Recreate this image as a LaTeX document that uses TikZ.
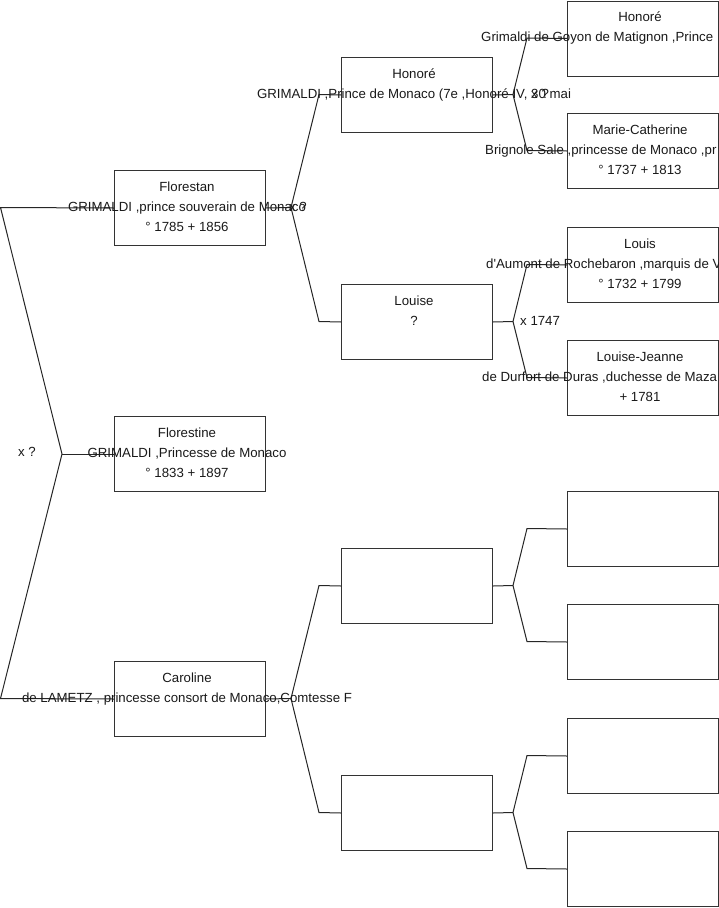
\documentclass[tikz,border=0pt]{standalone}
\usepackage{fontspec}
\setmainfont{Liberation Sans}
\begin{document}
\begin{tikzpicture}[x=1pt,y=-1pt,
  box/.style={draw=black!80,line width=1pt,minimum width=151pt,minimum height=75pt,inner sep=0pt,anchor=north west},
  t/.style={inner sep=0pt,anchor=base,font=\fontsize{13.25}{15}\selectfont,text=black!90},
  tw/.style={t,anchor=base west},
  ln/.style={draw=black!85,line width=1pt}]
\useasboundingbox (0,0) rectangle (719,908);
\clip (0,0) rectangle (719,908);
% boxes
\node[box] (flo) at (114,170) {};
\node[box] (fle) at (114,416) {};
\node[box] (car) at (114,661) {};
\node[box] (hon) at (341,57) {};
\node[box] (lou) at (341,284) {};
\node[box] (pa) at (341,548) {};
\node[box] (pb) at (341,775) {};
\node[box] (g1) at (567,0.5) {};
\node[box] (g2) at (567,113) {};
\node[box] (g3) at (567,227) {};
\node[box] (g4) at (567,340) {};
\node[box] (g5) at (567,491) {};
\node[box] (g6) at (567,604) {};
\node[box] (g7) at (567,718) {};
\node[box] (g8) at (567,831) {};
% connectors, generation 1
\coordinate (r0) at (62,454);
\draw[ln] (flo.west) -- (0.5,207.5) -- (r0) -- (0.5,698.5) -- (car.west);
\draw[ln] (r0) -- (fle.west);
% generation 2
\coordinate (k1) at (291,207.5);
\draw[ln] (flo.east) -- (k1);
\draw[ln] (hon.west) -- (319,94.5) -- (k1) -- (319,321.5) -- (lou.west);
\coordinate (k2) at (291,698.5);
\draw[ln] (car.east) -- (k2);
\draw[ln] (pa.west) -- (319,585.5) -- (k2) -- (319,812.5) -- (pb.west);
% generation 3
\coordinate (m1) at (513,94.5);
\draw[ln] (hon.east) -- (m1);
\draw[ln] (g1.west) -- (527,38) -- (m1) -- (527,150.5) -- (g2.west);
\coordinate (m2) at (513,321.5);
\draw[ln] (lou.east) -- (m2);
\draw[ln] (g3.west) -- (527,264.5) -- (m2) -- (527,377.5) -- (g4.west);
\coordinate (m3) at (513,585.5);
\draw[ln] (pa.east) -- (m3);
\draw[ln] (g5.west) -- (527,528.5) -- (m3) -- (527,641.5) -- (g6.west);
\coordinate (m4) at (513,812.5);
\draw[ln] (pb.east) -- (m4);
\draw[ln] (g7.west) -- (527,755.5) -- (m4) -- (527,868.5) -- (g8.west);
% texts column 1
\node[t] (flo1) at ([xshift=-3pt,yshift=-21pt]flo.north) {Florestan};
\node[t] (flo2) at ([xshift=-3pt,yshift=-41pt]flo.north) {GRIMALDI ,prince souverain de Monaco};
\node[t] (flo3) at ([xshift=-3pt,yshift=-61pt]flo.north) {° 1785 + 1856};
\node[t] (fle1) at ([xshift=-3pt,yshift=-21pt]fle.north) {Florestine};
\node[t] (fle2) at ([xshift=-3pt,yshift=-41pt]fle.north) {GRIMALDI ,Princesse de Monaco};
\node[t] (fle3) at ([xshift=-3pt,yshift=-61pt]fle.north) {° 1833 + 1897};
\node[t] (car1) at ([xshift=-3pt,yshift=-21pt]car.north) {Caroline};
\node[t] (car2) at ([xshift=-3pt,yshift=-41pt]car.north) {de LAMETZ , princesse consort de Monaco,Comtesse F};
% texts column 2
\node[t] (hon1) at ([xshift=-3pt,yshift=-21pt]hon.north) {Honoré};
\node[t] (hon2) at ([xshift=-3pt,yshift=-41pt]hon.north) {GRIMALDI ,Prince de Monaco (7e ,Honoré IV, 30 mai};
\node[t] (lou1) at ([xshift=-3pt,yshift=-21pt]lou.north) {Louise};
\node[t] (lou2) at ([xshift=-3pt,yshift=-41pt]lou.north) {?};
% texts column 3
\node[t] (g1a) at ([xshift=-3pt,yshift=-21pt]g1.north) {Honoré};
\node[tw] (g1b) at (481,41) {Grimaldi de Goyon de Matignon ,Prince};
\node[t] (g2a) at ([xshift=-3pt,yshift=-21pt]g2.north) {Marie-Catherine};
\node[tw] (g2b) at (485,154) {Brignole Sale ,princesse de Monaco ,pr};
\node[t] (g2c) at ([xshift=-3pt,yshift=-61pt]g2.north) {° 1737 + 1813};
\node[t] (g3a) at ([xshift=-3pt,yshift=-21pt]g3.north) {Louis};
\node[tw] (g3b) at (486,268) {d\textquotesingle Aumont de Rochebaron ,marquis de V};
\node[t] (g3c) at ([xshift=-3pt,yshift=-61pt]g3.north) {° 1732 + 1799};
\node[t] (g4a) at ([xshift=-3pt,yshift=-21pt]g4.north) {Louise-Jeanne};
\node[tw] (g4b) at (482,381) {de Durfort de Duras ,duchesse de Maza};
\node[t] (g4c) at ([xshift=-3pt,yshift=-61pt]g4.north) {+ 1781};
% marriage labels
\node[tw] (x0) at (18,456) {x ?};
\node[tw] (x1) at (289,211) {x ?};
\node[tw] (x2) at (531,98) {x ?};
\node[tw] (x3) at (520,325) {x 1747};
\end{tikzpicture}
\end{document}
